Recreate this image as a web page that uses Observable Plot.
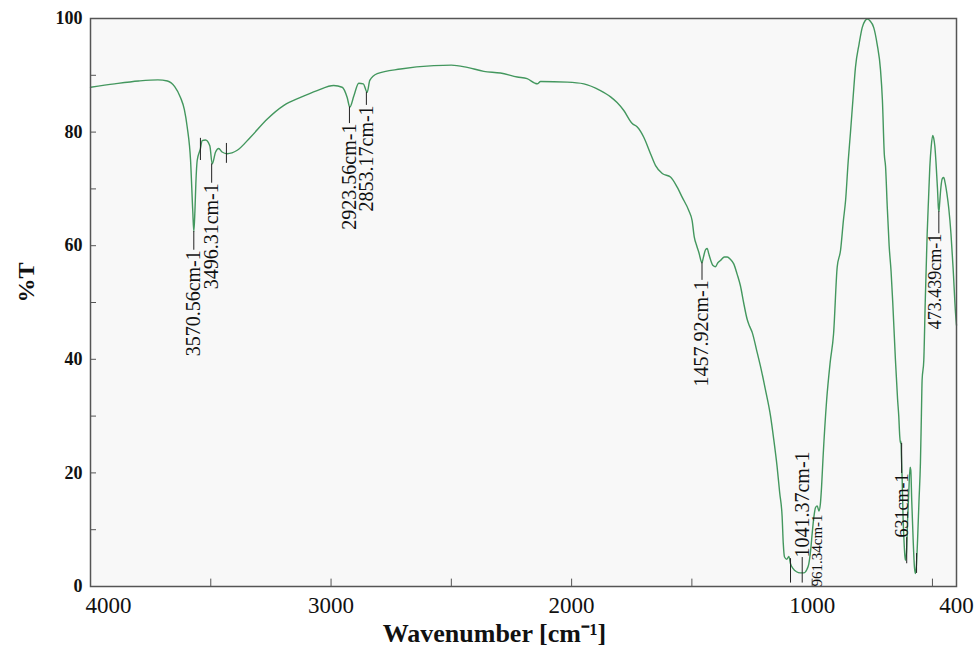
<!DOCTYPE html>
<html><head><meta charset="utf-8">
<script src="https://cdn.jsdelivr.net/npm/d3@7"></script>
<script src="https://cdn.jsdelivr.net/npm/@observablehq/plot@0.6"></script>
<style>body{margin:0;background:#fff;}</style>
</head><body><div id="chart"></div>
<script>
// ---- data ----
const wavenumber = [4000,3900,3800,3720,3680,3650,3626,3610,3598,3584,3575,3570.5,3566,3562,3556.5,3543,3536,3522,3504,3494,3480,3467,3453,3432,3390,3335,3265,3196,3127,3058,2989,2954,2933,2922,2905,2885,2866,2850,2839,2808,2711,2573,2500,2434,2365,2296,2226,2185,2143,2129,2018,1949,1880,1838,1811,1783,1748,1727,1700,1672,1651,1623,1589,1561,1540,1513,1499,1490,1480,1471,1458,1452,1443,1436,1430,1423,1412,1402,1392,1381,1365,1353,1340,1326,1312,1298,1285,1270,1260,1249,1232,1215,1195,1173,1160,1146,1135,1125,1120,1115,1105,1097,1090,1080,1065,1050,1035,1022,1014,1006,1000,993,986,979,972,966,961,955,940,925,911,896,882,870,861,850,841,830,820,805,792,780,770,760,744,730,716,708,700,695,688,680,672,665,654,645,640,636,633,631,629,626,622,617,613,608,603,598,593,590,586,580,575,571,567,562,556,550,546,543,536,530,522,516,511,505,499,495,490,485,479,475,473,470,465,459,453,447,440,432,423,414,404,400];
const transmittance = [87.9,88.5,89.0,89.2,89.0,88.0,86.1,84.0,80.9,75.0,66.2,62.5,66.0,71.0,75.0,77.1,78.5,78.6,77.6,74.4,76.5,77.1,76.5,76.2,76.8,79.1,82.3,84.7,86.1,87.3,88.2,87.9,86.1,84.4,86.4,88.6,88.5,87.0,89.1,90.3,91.1,91.7,91.8,91.4,90.7,90.4,89.7,89.4,88.5,88.9,88.8,88.5,87.3,86.2,85.2,83.8,81.5,80.9,79.1,76.2,74.1,72.7,72.1,70.3,68.5,66.2,64.4,61.5,60.0,58.8,57.0,58.0,59.3,59.5,58.6,57.6,56.5,56.3,57.0,57.4,58.0,58.0,57.6,56.8,55.0,52.9,50.0,47.0,45.8,44.7,41.8,38.8,34.8,30.0,26.0,21.2,16.5,12.4,7.5,5.2,4.8,5.3,4.0,3.2,2.6,2.4,2.4,3.0,4.0,6.5,9.3,12.2,13.9,14.2,13.3,14.5,17.5,22.5,32.7,39.5,44.5,56.2,59.2,64.5,68.0,75.0,79.8,86.0,91.4,95.5,98.4,99.6,99.9,99.6,98.4,95.5,91.0,85.6,76.0,74.0,67.0,60.0,55.5,50.0,40.0,33.0,30.0,26.5,25.2,25.6,23.0,19.0,12.0,7.0,4.6,6.0,12.0,17.0,21.0,20.5,15.0,8.0,3.5,2.3,3.5,8.0,15.0,21.7,30.0,36.3,39.8,50.0,62.0,68.5,73.8,77.5,79.4,79.0,77.5,74.5,70.0,66.5,66.0,67.5,70.2,71.8,72.0,71.0,69.2,66.5,62.1,56.0,48.1,46.0];

const xTickLabels = [3000, 2000, 1000, 400];
const xFirstTickLabel = [4000];
const xTicks = [3500, 3000, 2500, 2000, 1500, 1000, 500];
const yTickLabels = [0, 20, 40, 60, 80, 100];
const yTicks = [10, 20, 30, 40, 50, 60, 70, 80, 90];
const yTitle = "%T";
const xTitle = "Wavenumber [cm\u207B\u00B9]";

// peak annotations
const peakLabels = ["3570.56cm-1","3496.31cm-1","2923.56cm-1","2853.17cm-1","1457.92cm-1","1041.37cm-1","961.34cm-1","473.439cm-1","631cm-1"];
const labelWn    = [3570.56, 3496.31, 2923.56, 2853.17, 1457.92, 1041.37, 980, 490, 627];
const labelT     = [59.2, 71.0, 81.5, 84.7, 53.9, 5.1, 0.0, 62.1, 19.9];

// marker lines (peak picks)
const markerWn   = [3570.56, 3496.31, 2923.56, 2853.17, 1457.92, 1041.37, 1090, 473.439, 628, 3543, 3435, 607, 566];
const markerFrom = [62.5, 74.4, 84.4, 87.0, 57.0, 5.1, 4.9, 66.0, 25.2, 78.9, 78.0, 8.6, 5.8];
const markerTo   = [59.2, 71.0, 81.5, 84.7, 53.9, 0.6, 0.6, 62.1, 19.9, 75.0, 74.5, 4.0, 2.3];

// ---- build tables ----
const spectrum = wavenumber.map((wn, i) => ({wn, t: transmittance[i]}));
const labels = peakLabels.map((text, i) => ({text, wn: labelWn[i], t: labelT[i]}));
const markers = markerWn.map((wn, i) => ({wn, y1: markerFrom[i], y2: markerTo[i]}));

// styles (kept apart from the data)
const serif = "'Liberation Serif', 'Times New Roman', serif";
const labelAnchor = ["end","end","end","end","end","start","start","end","end"];
const labelSize   = [20,20,20,20,20,20,15,18,18];
const gray = "#555";

const labelMarks = labels.map((d, i) => Plot.text([d], {
  x: "wn", y: "t", text: "text", rotate: -90,
  textAnchor: labelAnchor[i], fontSize: labelSize[i], fill: "#111", fontFamily: serif
}));

const chart = Plot.plot({
  width: 975, height: 652,
  marginLeft: 90, marginRight: 19, marginTop: 18, marginBottom: 66,
  x: {domain: [4000, 400]},
  y: {domain: [0, 100]},
  style: {fontFamily: serif, background: "#fff", color: "#111"},
  marks: [
    Plot.frame({fill: "#f8f8f8", stroke: null}),
    Plot.ruleX(xTicks, {x: d => d, y1: 0, y2: 1.3, stroke: gray, strokeWidth: 1}),
    Plot.ruleY(yTicks, {y: d => d, x1: 4000, x2: 3975, stroke: gray, strokeWidth: 1}),
    Plot.line(spectrum, {x: "wn", y: "t", stroke: "#43975e", strokeWidth: 1.4, curve: "monotone-x"}),
    Plot.ruleX(markers, {x: "wn", y1: "y1", y2: "y2", stroke: "#222", strokeWidth: 1}),
    ...labelMarks,
    Plot.frame({stroke: gray, strokeWidth: 1.5}),
    Plot.axisX(xTickLabels, {tickSize: 0, tickPadding: 10, fontSize: 23, label: null, tickFormat: d => `${d}`, fill: "#111"}),
    Plot.text(xFirstTickLabel, {x: d => d, text: d => `${d}`, frameAnchor: "bottom", lineAnchor: "top", dy: 10, dx: -5, textAnchor: "start", fontSize: 23, fill: "#111"}),
    Plot.axisY(yTickLabels, {tickSize: 0, tickPadding: 8, fontSize: 18, fontWeight: "bold", label: null, tickFormat: d => `${d}`, fill: "#111"}),
    Plot.text([yTitle], {text: d => d, frameAnchor: "left", dx: -64, rotate: -90, fontSize: 24, fontWeight: "bold", fill: "#111"}),
    Plot.text([xTitle], {text: d => d, frameAnchor: "bottom", dy: 55, dx: -29, fontSize: 26, fontWeight: "bold", fill: "#111"})
  ]
});
document.getElementById("chart").appendChild(chart);
</script>
</body></html>
